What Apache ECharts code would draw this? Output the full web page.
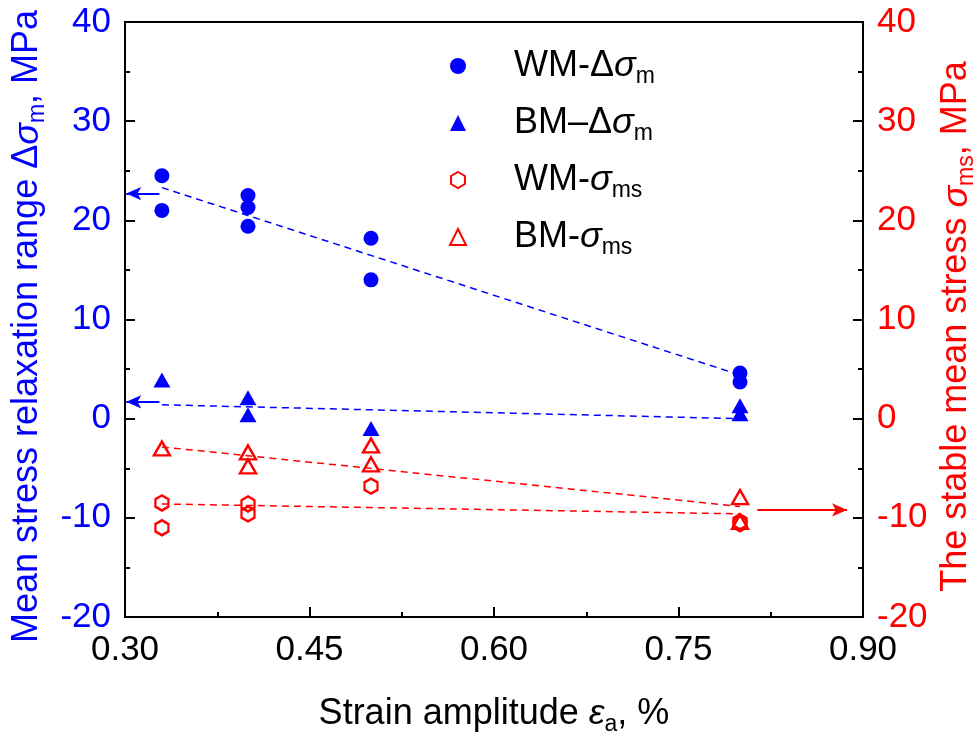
<!DOCTYPE html>
<html>
<head>
<meta charset="utf-8">
<script src="https://cdn.jsdelivr.net/npm/echarts@6/dist/echarts.min.js"></script>
<style>
  html, body { margin: 0; padding: 0; background: #fff; }
  #chart { width: 973px; height: 735px; }
</style>
</head>
<body>
<div id="chart"></div>
<script>
  // strain amplitude (%) vs stress values (MPa)
  var wmDelta = [[0.33, 24.5], [0.33, 21.0], [0.40, 22.5], [0.40, 21.3], [0.40, 19.4], [0.50, 18.2], [0.50, 14.0], [0.80, 4.6], [0.80, 3.7]]
  var bmDelta = [[0.33, 3.9], [0.40, 2.1], [0.40, 0.4], [0.50, -1.0], [0.80, 1.3], [0.80, 0.5]]
  var wmMean = [[0.33, -8.5], [0.33, -11.0], [0.40, -8.6], [0.40, -9.6], [0.50, -6.8], [0.80, -10.4], [0.80, -10.6]]
  var bmMean = [[0.33, -3.0], [0.40, -3.4], [0.40, -4.8], [0.50, -2.7], [0.50, -4.6], [0.80, -7.9], [0.80, -10.4]]

  // dashed trend lines
  var wmDeltaFit = [[0.33, 23.3], [0.80, 4.4]]
  var bmDeltaFit = [[0.33, 1.4], [0.80, 0.0]]
  var bmMeanFit = [[0.33, -2.85], [0.80, -8.85]]
  var wmMeanFit = [[0.33, -8.6], [0.80, -9.6]]

  // arrows pointing to the axes
  var leftArrows = [[[0.328, 22.7], [0.301, 22.7]], [[0.328, 1.7], [0.301, 1.7]]]
  var rightArrow = [[0.814, -9.2], [0.887, -9.2]]

  var legendNames = ['WM-Δσm', 'BM–Δσm', 'WM-σms', 'BM-σms']
  var legendRich = {
    'WM-Δσm': '{t|WM-Δ}{g|σ}{s|m}',
    'BM–Δσm': '{t|BM–Δ}{g|σ}{s|m}',
    'WM-σms': '{t|WM-}{g|σ}{s|ms}',
    'BM-σms': '{t|BM-}{g|σ}{s|ms}'
  }

  var FONT = '"Liberation Sans", Arial, sans-serif'
  var BLUE = '#0000ff'
  var RED = '#ff0000'
  var hexagon = 'path://M0,-1 L0.866,-0.5 L0.866,0.5 L0,1 L-0.866,0.5 L-0.866,-0.5 Z'

  function rich(color) {
    return {
      t: { fontFamily: FONT, fontSize: 36, color: color, lineHeight: 44, verticalAlign: 'middle' },
      g: { fontFamily: FONT, fontSize: 36, fontStyle: 'italic', color: color, lineHeight: 44, verticalAlign: 'middle' },
      s: { fontFamily: FONT, fontSize: 23, color: color, lineHeight: 22, verticalAlign: 'bottom' }
    }
  }

  function yAxis(color, pos, name) {
    return {
      type: 'value',
      position: pos,
      min: -20,
      max: 40,
      interval: 10,
      name: name,
      nameLocation: 'middle',
      nameRotate: 90,
      nameGap: 64,
      nameTextStyle: { color: color, fontFamily: FONT, fontSize: 36, padding: [0, 14, 0, 0], rich: rich(color) },
      axisLine: { show: true, onZero: false, lineStyle: { color: '#000', width: 2 } },
      axisTick: { show: true, inside: true, length: 10, lineStyle: { color: '#000', width: 2 } },
      minorTick: { show: true, splitNumber: 2, length: 5, lineStyle: { color: '#000', width: 2 } },
      axisLabel: { color: color, fontFamily: FONT, fontSize: 35, margin: 14 },
      splitLine: { show: false },
      minorSplitLine: { show: false }
    }
  }

  var dashed = function (data, color, extra) {
    var s = {
      type: 'line',
      data: data,
      showSymbol: false,
      symbol: 'none',
      silent: true,
      lineStyle: { color: color, width: 1.5, type: [7, 5] },
      z: 1
    }
    return Object.assign(s, extra || {})
  }

  function arrowLine(pairs, color) {
    return {
      silent: true,
      symbol: ['none', 'arrow'],
      symbolSize: [10, 15],
      label: { show: false },
      lineStyle: { color: color, width: 2, type: 'solid' },
      data: pairs.map(function (p) { return [{ coord: p[0] }, { coord: p[1] }] })
    }
  }

  var chart = echarts.init(document.getElementById('chart'))
  var option = {
    animation: false,
    backgroundColor: '#fff',
    grid: {
      left: 125, right: 110, top: 22, bottom: 118,
      outerBoundsMode: 'none', containLabel: false,
      show: true, borderColor: '#000', borderWidth: 2
    },
    legend: {
      orient: 'vertical',
      left: 444,
      top: 43,
      itemGap: 17,
      itemWidth: 16,
      itemHeight: 16,
      data: legendNames,
      formatter: function (n) { return legendRich[n] },
      textStyle: { color: '#000', fontFamily: FONT, fontSize: 36, padding: [0, 0, 0, 43], rich: rich('#000') }
    },
    xAxis: {
      type: 'value',
      min: 0.3,
      max: 0.9,
      interval: 0.15,
      name: '{t|Strain amplitude }{g|ε}{s|a}{t|, %}',
      nameLocation: 'middle',
      nameGap: 75,
      nameTextStyle: { color: '#000', fontFamily: FONT, fontSize: 36, rich: rich('#000') },
      axisLine: { show: true, onZero: false, lineStyle: { color: '#000', width: 2 } },
      axisTick: { show: true, inside: true, length: 10, lineStyle: { color: '#000', width: 2 } },
      minorTick: { show: true, splitNumber: 2, length: 5, lineStyle: { color: '#000', width: 2 } },
      axisLabel: { color: '#000', fontFamily: FONT, fontSize: 35, margin: 16, formatter: function (v) { return v.toFixed(2) } },
      splitLine: { show: false },
      minorSplitLine: { show: false }
    },
    yAxis: [
      yAxis(BLUE, 'left', '{t|Mean stress relaxation range Δ}{g|σ}{s|m}{t|, MPa}'),
      yAxis(RED, 'right', '{t|The stable mean stress }{g|σ}{s|ms}{t|, MPa}')
    ],
    series: [
      dashed(wmDeltaFit, BLUE, { markLine: arrowLine(leftArrows, BLUE) }),
      dashed(bmDeltaFit, BLUE),
      dashed(bmMeanFit, RED, { yAxisIndex: 1, markLine: arrowLine([rightArrow], RED) }),
      dashed(wmMeanFit, RED, { yAxisIndex: 1 }),
      {
        name: 'WM-Δσm', type: 'scatter', data: wmDelta,
        symbol: 'circle', symbolSize: 15,
        itemStyle: { color: BLUE, opacity: 1 }, z: 3
      },
      {
        name: 'BM–Δσm', type: 'scatter', data: bmDelta,
        symbol: 'triangle', symbolSize: [17, 15],
        itemStyle: { color: BLUE, opacity: 1 }, z: 3
      },
      {
        name: 'WM-σms', type: 'scatter', data: wmMean, yAxisIndex: 1,
        symbol: hexagon, symbolSize: [13, 15],
        itemStyle: { color: 'rgba(255,255,255,0)', borderColor: RED, borderWidth: 2.4, opacity: 1 }, z: 3
      },
      {
        name: 'BM-σms', type: 'scatter', data: bmMean, yAxisIndex: 1,
        symbol: 'triangle', symbolSize: [16, 14],
        itemStyle: { color: 'rgba(255,255,255,0)', borderColor: RED, borderWidth: 2.4, opacity: 1 }, z: 3
      }
    ]
  }
  chart.setOption(option)
</script>
</body>
</html>
